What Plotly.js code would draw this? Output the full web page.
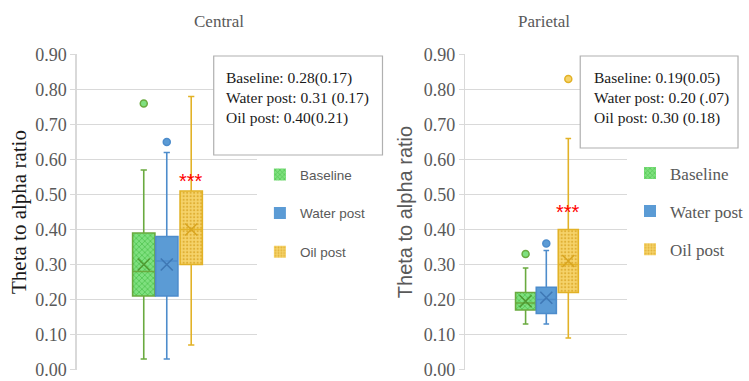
<!DOCTYPE html>
<html>
<head>
<meta charset="utf-8">
<script src="https://cdn.plot.ly/plotly-3.0.1.min.js"></script>
<style>html,body{margin:0;padding:0;background:#fff;}#chart{width:749px;height:381px;}</style>
</head>
<body>
<div id="chart"></div>
<script>
// ---- data ----
const groups = ['Baseline', 'Water post', 'Oil post'];
const panels = ['Central', 'Parietal'];
// Central
const centralQ1 = [0.21, 0.21, 0.30];
const centralMedian = [0.28, 0.31, 0.40];
const centralQ3 = [0.39, 0.38, 0.51];
const centralLower = [0.03, 0.03, 0.07];
const centralUpper = [0.57, 0.62, 0.78];
const centralMean = [0.30, 0.30, 0.40];
const centralOutliers = [[0.76], [0.65], []];
// Parietal
const parietalQ1 = [0.17, 0.16, 0.22];
const parietalMedian = [0.19, 0.20, 0.30];
const parietalQ3 = [0.22, 0.235, 0.40];
const parietalLower = [0.13, 0.13, 0.09];
const parietalUpper = [0.29, 0.34, 0.66];
const parietalMean = [0.195, 0.205, 0.31];
const parietalOutliers = [[0.33], [0.36], [0.83]];
// summary text
const centralSummary = ['Baseline: 0.28(0.17)', 'Water post: 0.31 (0.17)', 'Oil post: 0.40(0.21)'];
const parietalSummary = ['Baseline: 0.19(0.05)', 'Water post: 0.20 (.07)', 'Oil post: 0.30 (0.18)'];
const sigLabel = '***';
const sigValue = [0.54, 0.45];
const yTicks = [0, 0.1, 0.2, 0.3, 0.4, 0.5, 0.6, 0.7, 0.8, 0.9];
const yTitle = 'Theta to alpha ratio';

// ---- style ----
const slot = [0.372, 0.5, 0.636];
const boxW = 0.124;
const lineCol = ['#6aaa3f', '#4d8ccb', '#e2b227'];
const fillCol = ['#7fe07f', '#5b9bd5', '#f6d36a'];
const patFg = ['#4fc44f', null, '#e0b035'];
const patShape = ['x', '', '.'];
const meanCol = ['#4f9a32', '#3f78b5', '#d9a520'];

const traces = [];
function addPanel(p, q1, med, q3, lo, hi, mean, outl) {
  const xa = p === 0 ? 'x' : 'x2';
  const ya = p === 0 ? 'y' : 'y2';
  const lg = p === 0 ? 'legend' : 'legend2';
  for (let i = 0; i < 3; i++) {
    const pat = patShape[i] ? {shape: patShape[i], fgcolor: patFg[i], bgcolor: fillCol[i], size: i === 0 ? 4 : 3.5, solidity: i === 0 ? 0.35 : 0.3, fillmode: 'replace'} : {shape: ''};
    traces.push({
      type: 'bar', x: [slot[i]], y: [q3[i] - q1[i]], base: [q1[i]], width: boxW,
      xaxis: xa, yaxis: ya, name: groups[i], legend: lg, legendgroup: lg + i,
      marker: {color: fillCol[i], line: {width: 0}, pattern: pat},
      hoverinfo: 'skip', showlegend: true
    });
    traces.push({
      type: 'box', x: [slot[i]], q1: [q1[i]], median: [med[i]], q3: [q3[i]],
      lowerfence: [lo[i]], upperfence: [hi[i]], width: boxW, whiskerwidth: 0.28,
      xaxis: xa, yaxis: ya, name: groups[i], showlegend: false,
      fillcolor: 'rgba(0,0,0,0)', line: {color: lineCol[i], width: 1.6},
      boxpoints: false, hoverinfo: 'skip'
    });
    traces.push({
      type: 'scatter', mode: 'markers', x: [slot[i]], y: [mean[i]],
      xaxis: xa, yaxis: ya, showlegend: false, hoverinfo: 'skip',
      marker: {symbol: 'x-thin-open', size: 12, line: {color: meanCol[i], width: 1.6}, color: meanCol[i]}
    });
    if (outl[i].length) {
      traces.push({
        type: 'scatter', mode: 'markers', x: outl[i].map(() => slot[i]), y: outl[i],
        xaxis: xa, yaxis: ya, showlegend: false, hoverinfo: 'skip',
        marker: {symbol: 'circle', size: 7, color: fillCol[i], line: {color: lineCol[i], width: 1.5}}
      });
    }
  }
}
addPanel(0, centralQ1, centralMedian, centralQ3, centralLower, centralUpper, centralMean, centralOutliers);
addPanel(1, parietalQ1, parietalMedian, parietalQ3, parietalLower, parietalUpper, parietalMean, parietalOutliers);

const serif = '"Liberation Serif", "Times New Roman", serif';
const sans = '"Liberation Sans", Arial, sans-serif';
const grid = '#d9d9d9';
const yBase = {
  range: [0, 0.9], tickvals: yTicks, ticktext: yTicks.map(v => v.toFixed(2)),
  showgrid: true, gridcolor: grid, gridwidth: 1.5, zeroline: false,
  showline: true, linecolor: grid, linewidth: 1.5,
  ticks: 'outside', ticklen: 5, tickcolor: grid, tickwidth: 1.5,
  tickfont: {family: serif, size: 18, color: '#595959'}, fixedrange: true
};
const xBase = {range: [0, 1], showgrid: false, zeroline: false, showticklabels: false, ticks: '', showline: false, fixedrange: true};
const yDom = [0.030, 0.857];

const layout = {
  width: 749, height: 381,
  margin: {l: 0, r: 0, t: 0, b: 0},
  paper_bgcolor: '#ffffff', plot_bgcolor: 'rgba(0,0,0,0)',
  barmode: 'overlay', boxmode: 'overlay',
  xaxis: Object.assign({}, xBase, {domain: [0.1028, 0.3431], anchor: 'y'}),
  yaxis: Object.assign({}, yBase, {domain: yDom, anchor: 'x',
    title: {text: yTitle, font: {family: serif, size: 21, color: '#1a1a1a'}, standoff: 3}}),
  xaxis2: Object.assign({}, xBase, {domain: [0.6222, 0.8385], anchor: 'y2'}),
  yaxis2: Object.assign({}, yBase, {domain: yDom, anchor: 'x2',
    title: {text: yTitle, font: {family: sans, size: 20, color: '#595959'}, standoff: 6}}),
  legend: {x: 0.347, xanchor: 'left', y: 0.582, yanchor: 'top', bgcolor: 'rgba(0,0,0,0)',
    font: {family: sans, size: 13.5, color: '#595959'}, tracegroupgap: 18, itemwidth: 30},
  legend2: {x: 0.842, xanchor: 'left', y: 0.592, yanchor: 'top', bgcolor: 'rgba(0,0,0,0)',
    font: {family: serif, size: 17, color: '#595959'}, tracegroupgap: 13, itemwidth: 30},
  shapes: [
    {type: 'rect', xref: 'paper', yref: 'paper', x0: 214/749, x1: 383/749, y0: 1 - 155/381, y1: 1 - 56/381,
      line: {color: '#b0b0b0', width: 1.2}, fillcolor: '#ffffff', layer: 'above'},
    {type: 'rect', xref: 'paper', yref: 'paper', x0: 581/749, x1: 739/749, y0: 1 - 148/381, y1: 1 - 56/381,
      line: {color: '#b0b0b0', width: 1.2}, fillcolor: '#ffffff', layer: 'above'}
  ],
  annotations: [
    {text: panels[0], xref: 'paper', yref: 'paper', x: 192/749, y: 1 - 22/381, yanchor: 'middle', showarrow: false,
      font: {family: serif, size: 17, color: '#595959'}},
    {text: panels[1], xref: 'paper', yref: 'paper', x: 573/749, y: 1 - 22/381, yanchor: 'middle', showarrow: false,
      font: {family: serif, size: 17, color: '#595959'}},
    {text: centralSummary.join('<br>'), xref: 'paper', yref: 'paper', x: 224/749, y: 1 - 67/381,
      xanchor: 'left', yanchor: 'top', align: 'left', showarrow: false,
      font: {family: serif, size: 15.5, color: '#1a1a1a'}},
    {text: parietalSummary.join('<br>'), xref: 'paper', yref: 'paper', x: 593/749, y: 1 - 67/381,
      xanchor: 'left', yanchor: 'top', align: 'left', showarrow: false,
      font: {family: serif, size: 15.5, color: '#1a1a1a'}},
    {text: sigLabel, xref: 'x', yref: 'y', x: slot[2], y: sigValue[0], showarrow: false,
      font: {family: sans, size: 20, color: '#ff0000'}},
    {text: sigLabel, xref: 'x2', yref: 'y2', x: slot[2], y: sigValue[1], showarrow: false,
      font: {family: sans, size: 20, color: '#ff0000'}}
  ]
};

Plotly.newPlot('chart', traces, layout, {staticPlot: true, displayModeBar: false});
</script>
</body>
</html>
